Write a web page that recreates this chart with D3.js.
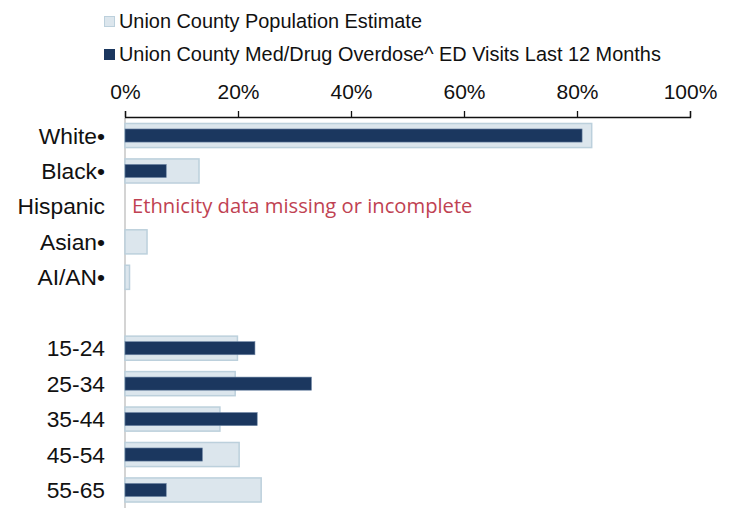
<!DOCTYPE html>
<html>
<head>
<meta charset="utf-8">
<script src="https://cdn.jsdelivr.net/npm/d3@7"></script>
<style>
  body { margin: 0; background: #fff; }
  svg { display: block; font-family: "Liberation Sans", Arial, sans-serif; }
</style>
</head>
<body>
<div id="chart"></div>
<script>
// categories, top to bottom ('' is the empty spacer row)
const categories = ['White•', 'Black•', 'Hispanic', 'Asian•', 'AI/AN•', '', '15-24', '25-34', '35-44', '45-54', '55-65'];

// percent of county population
const population = [82.6, 13.1, null, 3.9, 0.8, null, 19.9, 19.5, 16.8, 20.2, 24.1];

// percent of med/drug overdose ED visits
const overdose = [80.9, 7.3, null, 0, 0, null, 23.0, 33.0, 23.4, 13.7, 7.3];

const ticks = [0, 20, 40, 60, 80, 100];
const legendLabels = ['Union County Population Estimate', 'Union County Med/Drug Overdose^ ED Visits Last 12 Months'];
const missingNote = 'Ethnicity data missing or incomplete';

const width = 729;
const height = 508;

const popFill = '#dce6ed';
const popStroke = '#bcd0dc';
const odFill = '#1b375f';

const svg = d3.select('#chart')
  .append('svg')
  .attr('width', width)
  .attr('height', height);

// scales
const x = d3.scaleLinear().domain([0, 100]).range([125, 690]);
const y = d3.scalePoint().domain(categories).range([117.8, 507.7]).padding(0.5);
const step = y.step();
const popH = step * 0.68;
const odH = step * 0.37;

// legend
const legend = svg.append('g');
legendLabels.forEach((label, i) => {
  const ly = i === 0 ? 28 : 61;
  legend.append('rect')
    .attr('x', 104.5)
    .attr('y', ly - 11.5)
    .attr('width', 10)
    .attr('height', 10)
    .attr('fill', i === 0 ? popFill : odFill)
    .attr('stroke', i === 0 ? popStroke : odFill)
    .attr('stroke-width', 1);
  legend.append('text')
    .attr('x', 119)
    .attr('y', ly)
    .attr('font-size', 19.9)
    .attr('fill', '#111')
    .text(label);
});

// vertical baseline
svg.append('line')
  .attr('x1', x(0))
  .attr('x2', x(0))
  .attr('y1', 118)
  .attr('y2', height)
  .attr('stroke', '#d4d4d4')
  .attr('stroke-width', 2);

// population bars
svg.selectAll('rect.pop')
  .data(categories.map((c, i) => ({ c, v: population[i] })).filter(d => d.v !== null))
  .enter()
  .append('rect')
  .attr('class', 'pop')
  .attr('x', x(0))
  .attr('y', d => y(d.c) - popH / 2)
  .attr('width', d => x(d.v) - x(0))
  .attr('height', popH)
  .attr('fill', popFill)
  .attr('stroke', popStroke)
  .attr('stroke-width', 1.5);

// overdose bars
svg.selectAll('rect.od')
  .data(categories.map((c, i) => ({ c, v: overdose[i] })).filter(d => d.v))
  .enter()
  .append('rect')
  .attr('class', 'od')
  .attr('x', x(0))
  .attr('y', d => y(d.c) - odH / 2)
  .attr('width', d => x(d.v) - x(0))
  .attr('height', odH)
  .attr('fill', odFill)
  .attr('stroke', '#6f87a6')
  .attr('stroke-width', 0.6);

// category labels
svg.selectAll('text.cat')
  .data(categories.filter(c => c))
  .enter()
  .append('text')
  .attr('class', 'cat')
  .attr('x', 105)
  .attr('y', d => y(d))
  .attr('dy', '0.35em')
  .attr('text-anchor', 'end')
  .attr('font-size', 22.8)
  .attr('fill', '#111')
  .text(d => d);

// note for missing ethnicity data
svg.append('text')
  .attr('x', 132)
  .attr('y', y('Hispanic'))
  .attr('dy', '0.35em')
  .attr('font-family', '"Open Sans", "Noto Sans", sans-serif')
  .attr('font-size', 20.2)
  .attr('fill', '#bf4252')
  .text(missingNote);

// top axis
const xAxis = d3.axisTop(x)
  .tickValues(ticks)
  .tickSize(6)
  .tickPadding(12)
  .tickFormat(d => d + '%');

const axisG = svg.append('g')
  .attr('transform', 'translate(0, 117)')
  .call(xAxis);

axisG.select('.domain').attr('stroke', '#111').attr('stroke-width', 1.3);
axisG.selectAll('.tick line').attr('stroke', '#111').attr('stroke-width', 1.3);
axisG.selectAll('.tick text')
  .attr('font-family', '"Liberation Sans", Arial, sans-serif')
  .attr('font-size', 21)
  .attr('fill', '#111');
</script>
</body>
</html>
